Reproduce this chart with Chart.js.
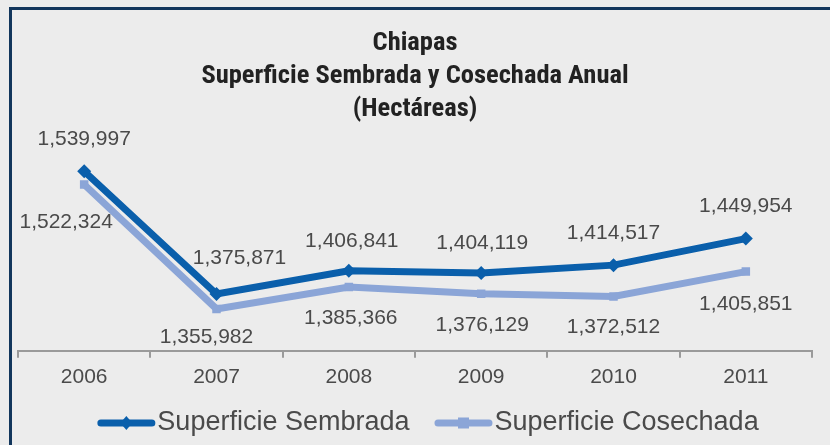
<!DOCTYPE html>
<html>
<head>
<meta charset="utf-8">
<script src="https://cdn.jsdelivr.net/npm/chart.js@4.4.1/dist/chart.umd.min.js"></script>
<style>
  html, body { margin: 0; padding: 0; background: #ececec; overflow: hidden; }
  #frame { position: absolute; left: 9px; top: 7px; width: 900px; height: 500px; border: 3px solid #12365c; }
  #wrap { position: absolute; left: 0; top: 0; width: 830px; height: 445px; }
</style>
</head>
<body>
<div id="frame"></div>
<div id="wrap"><canvas id="myChart" width="830" height="445"></canvas></div>
<script>
// data
const years = ['2006', '2007', '2008', '2009', '2010', '2011'];
const sembrada = [1539997, 1375871, 1406841, 1404119, 1414517, 1449954];
const cosechada = [1522324, 1355982, 1385366, 1376129, 1372512, 1405851];
const seriesNames = ['Superficie Sembrada', 'Superficie Cosechada'];
const titleLines = ['Chiapas', 'Superficie Sembrada y Cosechada Anual', '(Hectáreas)'];

const textFont = '"Liberation Sans", Arial, sans-serif';
const textColor = '#4a4a4a';

// where each value label sits relative to its point
const labelOffsets = [
  [[0, -32], [23, -36], [3, -30], [1, -30], [0, -32], [0, -32]],
  [[-18, 38], [-10, 28], [2, 31], [1, 31], [0, 31], [0, 33]]
];

const nf = new Intl.NumberFormat('en-US');

const valueLabels = {
  id: 'valueLabels',
  afterDatasetsDraw(chart) {
    const ctx = chart.ctx;
    ctx.save();
    ctx.font = '21px ' + textFont;
    ctx.fillStyle = textColor;
    ctx.textAlign = 'center';
    ctx.textBaseline = 'middle';
    chart.data.datasets.forEach((ds, i) => {
      chart.getDatasetMeta(i).data.forEach((pt, j) => {
        const off = labelOffsets[i][j];
        ctx.fillText(nf.format(ds.data[j]), pt.x + off[0], pt.y + off[1]);
      });
    });
    ctx.restore();
  }
};

const lineLegend = {
  id: 'lineLegend',
  afterDraw(chart) {
    const ctx = chart.ctx;
    const sample = 58, gapText = 2, gapItem = 25;
    const cx = 428, y = 423;
    ctx.save();
    ctx.font = '27px ' + textFont;
    ctx.textBaseline = 'middle';
    ctx.textAlign = 'left';
    const ds = chart.data.datasets;
    const widths = ds.map(d => sample + gapText + ctx.measureText(d.label).width);
    const total = widths.reduce((a, b) => a + b, 0) + gapItem * (widths.length - 1);
    let x = cx - total / 2;
    ds.forEach((d, i) => {
      ctx.strokeStyle = d.borderColor;
      ctx.fillStyle = d.borderColor;
      ctx.lineWidth = 7;
      ctx.lineCap = 'round';
      ctx.beginPath();
      ctx.moveTo(x + 3.5, y);
      ctx.lineTo(x + sample - 3.5, y);
      ctx.stroke();
      const mx = x + sample / 2;
      ctx.beginPath();
      if (d.pointStyle === 'rectRot') {
        ctx.moveTo(mx, y - 7); ctx.lineTo(mx + 6, y); ctx.lineTo(mx, y + 7); ctx.lineTo(mx - 6, y);
      } else {
        ctx.rect(mx - 5.5, y - 5.5, 11, 11);
      }
      ctx.closePath();
      ctx.fill();
      ctx.fillStyle = textColor;
      ctx.fillText(d.label, x + sample + gapText, y);
      x += widths[i] + gapItem;
    });
    ctx.restore();
  }
};

const ctx = document.getElementById('myChart');

const myChart = new Chart(ctx, {
  type: 'line',
  data: {
    labels: years,
    datasets: [{
      label: seriesNames[0],
      data: sembrada,
      borderColor: '#0a5fab',
      backgroundColor: '#0a5fab',
      borderWidth: 7,
      pointStyle: 'rectRot',
      pointRadius: 7,
      pointBorderWidth: 0,
      tension: 0
    }, {
      label: seriesNames[1],
      data: cosechada,
      borderColor: '#8ba5d7',
      backgroundColor: '#8ba5d7',
      borderWidth: 7,
      pointStyle: 'rect',
      pointRadius: 6,
      pointBorderWidth: 0,
      tension: 0
    }]
  },
  options: {
    responsive: false,
    animation: false,
    devicePixelRatio: 1,
    layout: { padding: { left: 18, right: 18, top: 0, bottom: 48 } },
    plugins: {
      legend: { display: false },
      tooltip: { enabled: false },
      title: {
        display: true,
        text: titleLines,
        color: '#222',
        font: { family: '"Roboto Condensed", sans-serif', size: 26.5, weight: 'bold', lineHeight: 1.25 },
        padding: { top: 27, bottom: 0 }
      }
    },
    scales: {
      x: {
        offset: true,
        grid: { display: true, offset: true, drawOnChartArea: false, drawTicks: true, tickLength: 7, color: '#9a9a9a', lineWidth: 2 },
        border: { display: true, color: '#9a9a9a', width: 2 },
        ticks: { color: textColor, font: { family: textFont, size: 21 }, padding: 7 }
      },
      y: {
        display: false,
        min: 1300000,
        max: 1600000
      }
    }
  },
  plugins: [valueLabels, lineLegend]
});
</script>
</body>
</html>
